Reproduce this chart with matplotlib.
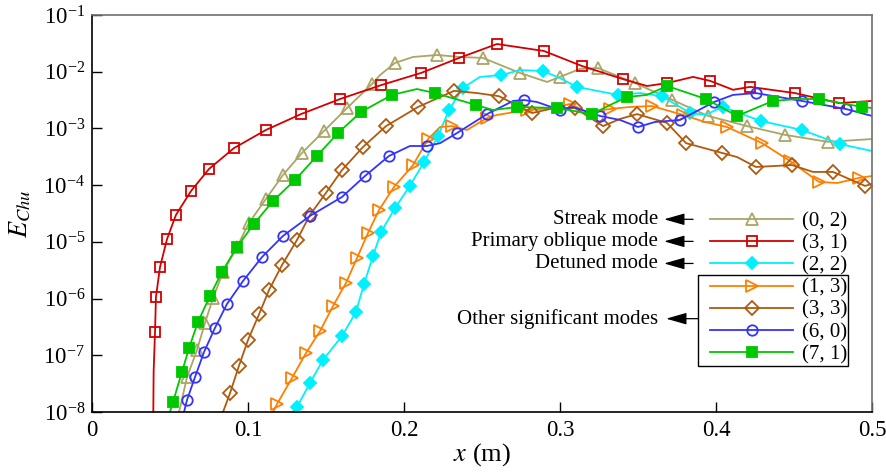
import matplotlib
matplotlib.use("Agg")
import matplotlib.pyplot as plt
from matplotlib.lines import Line2D
from matplotlib.patches import Rectangle
from matplotlib import ticker

plt.rcParams['font.family'] = ['Liberation Serif', 'DejaVu Serif']
plt.rcParams['mathtext.fontset'] = 'stix'

# ---------------- data ----------------
labels = ["(0, 2)", "(3, 1)", "(2, 2)", "(1, 3)", "(3, 3)", "(6, 0)", "(7, 1)"]
descriptions = ["Streak mode", "Primary oblique mode", "Detuned mode"]
group_label = "Other significant modes"
x_ticks = [0, 0.1, 0.2, 0.3, 0.4, 0.5]
y_ticks = [1e-8, 1e-7, 1e-6, 1e-5, 1e-4, 1e-3, 1e-2, 1e-1]

x_02 = [0.0558, 0.0609, 0.0673, 0.0724, 0.0776, 0.0840, 0.0929, 0.1006, 0.1115, 0.1224,
        0.1346, 0.1487, 0.1635, 0.1795, 0.1846, 0.1942, 0.2058, 0.2212, 0.2359, 0.2506,
        0.2744, 0.2917, 0.3000, 0.3128, 0.3244, 0.3481, 0.3718, 0.3949, 0.4199, 0.4442,
        0.4718, 0.5000]
E_02 = [1.0e-8, 4.1e-8, 1.24e-7, 3.7e-7, 1.02e-6, 2.94e-6, 8.1e-6, 2.15e-5, 5.7e-5, 1.51e-4,
        3.7e-4, 9.0e-4, 2.29e-3, 6.1e-3, 8.7e-3, 1.43e-2, 1.82e-2, 1.97e-2, 1.82e-2, 1.75e-2,
        9.5e-3, 6.6e-3, 8.1e-3, 1.12e-2, 1.16e-2, 6.3e-3, 3.2e-3, 1.66e-3, 1.10e-3, 7.7e-4,
        5.8e-4, 6.5e-4]

x_31 = [0.0393, 0.0395, 0.0404, 0.0410, 0.0436, 0.0481, 0.0538, 0.0635, 0.0750, 0.0910,
        0.1115, 0.1340, 0.1590, 0.1853, 0.2109, 0.2353, 0.2596, 0.2897, 0.3141, 0.3404,
        0.3558, 0.3686, 0.3853, 0.3962, 0.4109, 0.4218, 0.4506, 0.4788, 0.5000]
E_31 = [1.0e-8, 5.1e-8, 2.6e-7, 1.07e-6, 3.6e-6, 1.12e-5, 2.98e-5, 7.9e-5, 1.93e-4, 4.5e-4,
        9.4e-4, 1.79e-3, 3.3e-3, 5.8e-3, 9.5e-3, 1.75e-2, 3.08e-2, 2.32e-2, 1.26e-2, 7.4e-3,
        5.6e-3, 6.3e-3, 8.1e-3, 6.9e-3, 4.8e-3, 5.4e-3, 4.2e-3, 2.8e-3, 3.05e-3]

x_22 = [0.1288, 0.1314, 0.1397, 0.1481, 0.1603, 0.1692, 0.1744, 0.1801, 0.1853, 0.1942,
        0.2038, 0.2128, 0.2218, 0.2288, 0.2378, 0.2487, 0.2622, 0.2744, 0.2891, 0.3000,
        0.3109, 0.3237, 0.3372, 0.3513, 0.3654, 0.3833, 0.3929, 0.4045, 0.4288, 0.4551,
        0.4795, 0.5000]
E_22 = [1.0e-8, 1.22e-8, 3.24e-8, 8.3e-8, 2.19e-7, 5.8e-7, 1.81e-6, 5.6e-6, 1.49e-5, 3.95e-5,
        9.7e-5, 2.56e-4, 7.3e-4, 2.11e-3, 5.2e-3, 8.1e-3, 8.7e-3, 1.07e-2, 1.03e-2, 7.7e-3,
        5.4e-3, 4.6e-3, 3.9e-3, 4.2e-3, 3.7e-3, 1.87e-3, 1.73e-3, 2.39e-3, 1.35e-3, 9.4e-4,
        5.3e-4, 4.0e-4]

x_13 = [0.1160, 0.1186, 0.1282, 0.1372, 0.1462, 0.1545, 0.1628, 0.1699, 0.1769, 0.1840,
        0.1936, 0.2058, 0.2154, 0.2231, 0.2308, 0.2404, 0.2532, 0.2596, 0.2788, 0.2955,
        0.3064, 0.3173, 0.3321, 0.3449, 0.3590, 0.3788, 0.3929, 0.4071, 0.4295, 0.4474,
        0.4660, 0.4776, 0.4917, 0.5000]
E_13 = [1.0e-8, 1.38e-8, 3.97e-8, 1.10e-7, 2.68e-7, 7.4e-7, 1.88e-6, 5.2e-6, 1.43e-5, 3.65e-5,
        9.3e-5, 2.26e-4, 6.5e-4, 1.06e-3, 1.10e-3, 9.4e-4, 1.53e-3, 1.73e-3, 2.11e-3, 2.29e-3,
        2.7e-3, 1.95e-3, 2.2e-3, 2.39e-3, 2.48e-3, 1.73e-3, 1.30e-3, 1.06e-3, 5.5e-4, 2.67e-4,
        1.14e-4, 1.09e-4, 1.34e-4, 1.45e-4]

x_33 = [0.0840, 0.0885, 0.0942, 0.1000, 0.1071, 0.1135, 0.1218, 0.1314, 0.1397, 0.1500,
        0.1603, 0.1737, 0.1885, 0.2090, 0.2321, 0.2468, 0.2609, 0.2821, 0.2936, 0.3096,
        0.3276, 0.3385, 0.3494, 0.3686, 0.3808, 0.4038, 0.4135, 0.4256, 0.4487, 0.4622,
        0.4750, 0.4955, 0.5000]
E_33 = [1.0e-8, 2.16e-8, 6.5e-8, 1.86e-7, 5.3e-7, 1.42e-6, 3.9e-6, 1.08e-5, 2.98e-5, 7.3e-5,
        1.85e-4, 4.7e-4, 1.10e-3, 2.39e-3, 4.6e-3, 4.2e-3, 3.7e-3, 1.87e-3, 2.2e-3, 2.29e-3,
        1.10e-3, 1.47e-3, 1.79e-3, 1.25e-3, 5.5e-4, 3.7e-4, 3.13e-4, 2.09e-4, 2.26e-4, 1.71e-4,
        1.71e-4, 9.7e-5, 1.05e-4]

x_60 = [0.0590, 0.0609, 0.0660, 0.0718, 0.0788, 0.0865, 0.0968, 0.1090, 0.1224, 0.1397,
        0.1603, 0.1750, 0.1904, 0.2038, 0.2147, 0.2231, 0.2340, 0.2532, 0.2699, 0.2769,
        0.2853, 0.3000, 0.3083, 0.3256, 0.3385, 0.3500, 0.3609, 0.3769, 0.3987, 0.4109,
        0.4256, 0.4551, 0.4833, 0.5000]
E_60 = [1.0e-8, 1.63e-8, 4.1e-8, 1.14e-7, 3.03e-7, 8.0e-7, 2.04e-6, 5.4e-6, 1.27e-5, 2.86e-5,
        6.2e-5, 1.45e-4, 3.27e-4, 4.9e-4, 4.9e-4, 5.5e-4, 8.3e-4, 1.79e-3, 3.05e-3, 3.17e-3,
        2.92e-3, 2.11e-3, 2.39e-3, 1.66e-3, 1.41e-3, 1.06e-3, 1.30e-3, 1.41e-3, 2.92e-3, 3.9e-3,
        4.2e-3, 3.05e-3, 2.2e-3, 1.66e-3]

x_71 = [0.0500, 0.0519, 0.0577, 0.0622, 0.0679, 0.0756, 0.0833, 0.0929, 0.1038, 0.1160,
        0.1301, 0.1442, 0.1577, 0.1724, 0.1923, 0.2083, 0.2199, 0.2462, 0.2571, 0.2724,
        0.2981, 0.3205, 0.3321, 0.3429, 0.3558, 0.3686, 0.3936, 0.4135, 0.4365, 0.4519,
        0.4660, 0.4936, 0.5000]
E_71 = [1.0e-8, 1.5e-8, 5.1e-8, 1.34e-7, 3.86e-7, 1.11e-6, 2.94e-6, 8.1e-6, 2.07e-5, 5.25e-5,
        1.23e-4, 3.27e-4, 8.3e-4, 1.95e-3, 3.9e-3, 4.95e-3, 4.2e-3, 2.59e-3, 2.11e-3, 2.39e-3,
        2.29e-3, 1.79e-3, 2.59e-3, 3.58e-3, 3.9e-3, 5.6e-3, 3.3e-3, 1.66e-3, 3.05e-3, 3.3e-3,
        3.3e-3, 2.39e-3, 2.29e-3]

# which samples carry a symbol (the rest are line-only samples)
mk_02 = list(range(1, 14)) + [15, 17, 19, 20, 22, 24, 25, 26, 27, 28, 29, 30]
mk_31 = list(range(2, 20)) + [21, 23, 25, 26, 27]
mk_22 = list(range(1, 15)) + [16, 18, 20, 22, 24, 25, 27, 28, 29, 30]
mk_13 = list(range(1, 13)) + [14, 16, 18, 20, 22, 24, 25, 27, 28, 29, 30, 32]
mk_33 = list(range(1, 15)) + [16, 17, 19, 20, 22, 23, 24, 25, 27, 28, 30, 31]
mk_60 = list(range(1, 13)) + [14, 16, 17, 19, 21, 23, 25, 27, 28, 30, 31, 32]
mk_71 = list(range(1, 15)) + [16, 17, 19, 20, 21, 23, 25, 26, 27, 28, 30, 31]

# ---------------- styles ----------------
series = [
    (x_02, E_02, mk_02, '#ABA566', '^', 'none', 8.5),
    (x_31, E_31, mk_31, '#D40000', 's', 'none', 7.5),
    (x_22, E_22, mk_22, '#00F0FF', 'D', 'fill', 6.3),
    (x_13, E_13, mk_13, '#FF8000', '>', 'none', 8.5),
    (x_33, E_33, mk_33, '#B05A10', 'D', 'none', 6.8),
    (x_60, E_60, mk_60, '#3333FF', 'o', 'none', 7.5),
    (x_71, E_71, mk_71, '#00C800', 's', 'fill', 7.8),
]

W, H = 886, 474
fig = plt.figure(figsize=(W / 100, H / 100), dpi=100)
ax = fig.add_axes([92 / W, 1 - 412 / H, 780 / W, 397 / H])

handles = []
for xs, ys, mk, col, m, fill, ms in series:
    fc = col if fill == 'fill' else 'none'
    ax.plot(xs, ys, color=col, lw=1.3, marker=m, ms=ms, mfc=fc, mec=col,
            mew=1.3, markevery=mk, clip_on=True)
    handles.append(Line2D([], [], color=col, lw=1.3, marker=m, ms=ms, mfc=fc,
                          mec=col, mew=1.3))

ax.set_yscale('log')
ax.set_xlim(0, 0.5)
ax.set_ylim(1e-8, 1e-1)
ax.set_xticks(x_ticks)
ax.xaxis.set_major_formatter(ticker.FormatStrFormatter('%g'))
ax.set_yticks(y_ticks)
ax.yaxis.set_minor_locator(ticker.NullLocator())
ax.tick_params(direction='in', length=7, width=1, top=False, right=False,
               labelsize=16.5, pad=5)
ax.tick_params(axis='x', pad=6)
for s in ['left', 'bottom']:
    ax.spines[s].set_linewidth(1.2)
    ax.spines[s].set_color('black')
for s in ['top', 'right']:
    ax.spines[s].set_linewidth(1.2)
    ax.spines[s].set_color('#707070')

ax.set_xlabel(r'$x$ (m)', fontsize=19, labelpad=0)
ax.set_ylabel(r'$E_{Chu}$', fontsize=19, labelpad=7)

leg = ax.legend(handles, labels, loc='upper left',
                bbox_to_anchor=(710 / W, 1 - 212 / H), bbox_transform=fig.transFigure,
                frameon=False, fontsize=15, handlelength=4.0, handletextpad=0.4,
                labelspacing=0.12, borderpad=0, borderaxespad=0)

fig.canvas.draw()
r = fig.canvas.get_renderer()
hb = [h.get_window_extent(r) for h in leg.legend_handles]
tb = [t.get_window_extent(r) for t in leg.get_texts()]
yc = [(b.y0 + b.y1) / 2 for b in hb]
hx0 = min(b.x0 for b in hb)
tx1 = max(b.x1 for b in tb)
fw, fh = fig.bbox.width, fig.bbox.height

# box around the "other significant modes"
bx0, bx1 = hx0 - 6, tx1 + 1
by1 = yc[3] + 11
by0 = yc[6] - 14
fig.add_artist(Rectangle((bx0 / fw, by0 / fh), (bx1 - bx0) / fw, (by1 - by0) / fh,
                         transform=fig.transFigure, fill=False, lw=1.0, ec='black'))

arrow_kw = dict(arrowstyle='-|>,head_length=0.7,head_width=0.2', color='black',
                lw=0.9, mutation_scale=18, shrinkA=0, shrinkB=0)
for i, d in enumerate(descriptions):
    fig.text((hx0 - 46) / fw, yc[i] / fh, d, ha='right', va='center', fontsize=15)
    ax.annotate('', xy=((hx0 - 40) / fw, yc[i] / fh), xycoords='figure fraction',
                xytext=((hx0 - 11) / fw, yc[i] / fh), textcoords='figure fraction',
                arrowprops=arrow_kw)
ym = (yc[3] + yc[6]) / 2
fig.text((hx0 - 46) / fw, ym / fh, group_label, ha='right', va='center', fontsize=15)
ax.annotate('', xy=((hx0 - 38) / fw, ym / fh), xycoords='figure fraction',
            xytext=(bx0 / fw, ym / fh), textcoords='figure fraction',
            arrowprops=arrow_kw)

fig.savefig('out.png', dpi=100)
